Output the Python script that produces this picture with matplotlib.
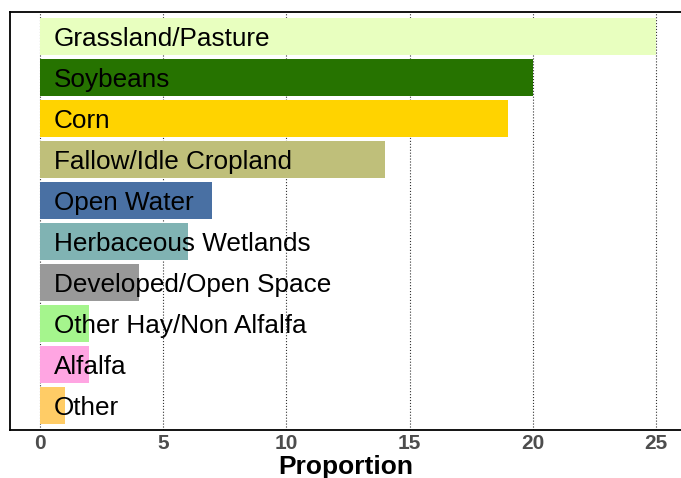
import matplotlib
matplotlib.use("Agg")
import matplotlib.pyplot as plt
import numpy as np

# land cover classes, top to bottom
categories = ["Grassland/Pasture", "Soybeans", "Corn", "Fallow/Idle Cropland",
              "Open Water", "Herbaceous Wetlands", "Developed/Open Space",
              "Other Hay/Non Alfalfa", "Alfalfa", "Other"]
proportion = [25, 20, 19, 14, 7, 6, 4, 2, 2, 1]
colors = ["#e8ffbf", "#267300", "#ffd300", "#bfbf7a", "#4970a3",
          "#80b3b3", "#999999", "#a5f58d", "#ffa5e2", "#ffcc66"]
xticks = [0, 5, 10, 15, 20, 25]

plt.rcParams['font.family'] = ['Liberation Sans', 'DejaVu Sans']

fig = plt.figure(figsize=(6.81, 4.78), dpi=100)
ax = fig.add_axes([10/681, 1 - 430/478, 1 - 10/681, (430 - 12)/478])

ypos = np.arange(len(categories))[::-1]
ax.barh(ypos, proportion, height=0.9, color=colors, zorder=2)
# labels sit inside the bars, caps centred on the bar
for y, name in zip(ypos, categories):
    ax.text(0.55, y - 0.225, name, va='baseline', ha='left', fontsize=18.8,
            color='black', zorder=3)

ax.set_xlim(-1.22, 26.02)
ax.set_ylim(-0.6, 9.6)
ax.set_yticks([])
ax.set_xticks(xticks)
ax.set_xticklabels([str(t) for t in xticks], fontsize=15, fontweight='bold', color='#4d4d4d')
ax.tick_params(axis='x', length=0, pad=3)
ax.grid(axis='x', linestyle=':', color='#333333', linewidth=0.8, zorder=0)
ax.set_axisbelow(True)

for s in ['left', 'top', 'bottom']:
    ax.spines[s].set_linewidth(1.3)
    ax.spines[s].set_color('black')
ax.spines['right'].set_visible(False)

ax.set_xlabel("Proportion", fontsize=19, fontweight='bold', labelpad=1)

fig.savefig("out.png", dpi=100)
